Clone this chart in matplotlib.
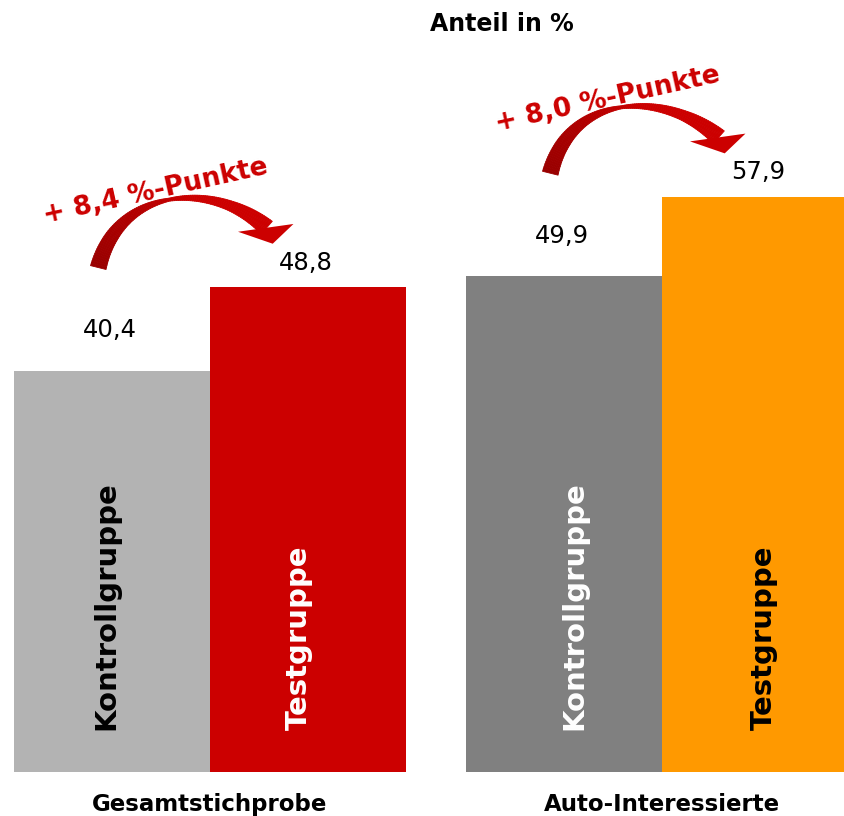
import numpy as np
import matplotlib
matplotlib.use("Agg")
import matplotlib.pyplot as plt
from matplotlib.collections import PolyCollection
from matplotlib.colors import to_rgb
from matplotlib.patches import Polygon
from matplotlib.transforms import IdentityTransform

groups = ["Gesamtstichprobe", "Auto-Interessierte"]
members = ["Kontrollgruppe", "Testgruppe"]
values = [[40.4, 48.8], [49.9, 57.9]]
value_labels = [["40,4", "48,8"], ["49,9", "57,9"]]
diff_labels = ["+ 8,4 %-Punkte", "+ 8,0 %-Punkte"]
title = "Anteil in %"

bar_colors = [["#b3b3b3", "#cc0000"], ["#808080", "#ff9900"]]
inner_colors = [["black", "white"], ["white", "black"]]
inner_shift = [[-0.035, -0.05], [0.05, 0.015]]   # small x nudges of rotated labels
red = "#cc0000"

W, H, DPI = 845, 816, 100
PX_Y = 9.93          # pixels per percent
BASE = 44            # baseline, pixels from bottom
BAR_PX = 196.0
GAP = 452 / BAR_PX   # distance between group centres in bar widths

fig = plt.figure(figsize=(W / DPI, H / DPI), dpi=DPI)
ax = fig.add_axes([0, 0, 1, 1])
ax.axis("off")
x_left = -1 - 14 / BAR_PX
ax.set_xlim(x_left, x_left + W / BAR_PX)
ax.set_ylim(-BASE / PX_Y, (H - BASE) / PX_Y)


def bar_x(g, j):
    return g * GAP + (j - 0.5)


for g in range(len(groups)):
    for j in range(len(members)):
        x = bar_x(g, j)
        v = values[g][j]
        ax.bar(x, v, width=1.0, color=bar_colors[g][j], linewidth=0)
        off = 4.1 if j == 0 else 2.5
        ax.text(x - 0.01, v + off, value_labels[g][j], ha="center", va="center",
                fontsize=17.5, color="black")
        ax.text(x + 0.045 + inner_shift[g][j], 4.2, members[j], rotation=90,
                rotation_mode="anchor", ha="left", va="baseline", fontsize=21,
                fontweight="bold", color=inner_colors[g][j])
    ax.text(g * GAP, -3.3, groups[g], ha="center", va="center",
            fontsize=16.5, fontweight="bold", color="black")

fig.text(502 / W, 1 - 24 / H, title, ha="center", va="center",
         fontsize=17, fontweight="bold", color="black")


def curved_arrow(tail, tip, col0, col1):
    # tapered, shaded arrow along a cubic bezier, built in pixel space
    T = ax.transData.transform(tail)
    P = ax.transData.transform(tip)
    B = P + np.array([-6, 16])          # centre of the head's base
    C1 = T + np.array([20, 80])
    C2 = B + np.array([-55, 48])

    def bez(t):
        t = np.asarray(t, dtype=float)[..., None]
        return ((1 - t) ** 3 * T + 3 * t * (1 - t) ** 2 * C1
                + 3 * t ** 2 * (1 - t) * C2 + t ** 3 * B)

    def tang(t):
        t = np.asarray(t, dtype=float)[..., None]
        return (3 * (1 - t) ** 2 * (C1 - T) + 6 * t * (1 - t) * (C2 - C1)
                + 3 * t ** 2 * (B - C2))

    ts = np.linspace(0, 1, 100)
    pts = bez(ts)
    tg = tang(ts)
    tg = tg / np.linalg.norm(tg, axis=1)[:, None]
    nrm = np.column_stack([-tg[:, 1], tg[:, 0]])
    w = np.interp(ts, [0, 0.15, 0.5, 0.8, 1], [16, 13, 3, 10, 17])
    left = pts + nrm * (w[:, None] / 2)
    right = pts - nrm * (w[:, None] / 2)

    c0, c1 = np.array(to_rgb(col0)), np.array(to_rgb(col1))
    quads, cols = [], []
    for i in range(len(ts) - 1):
        quads.append([left[i], left[i + 1], right[i + 1], right[i]])
        cols.append(c0 + (c1 - c0) * min(1, ts[i] * 1.6))
    ax.add_collection(PolyCollection(quads, facecolors=cols, edgecolors=cols,
                                     linewidths=0.6, transform=IdentityTransform()))
    u = np.array([57, 8]) / np.hypot(57, 8)
    head = np.array([B - u * 29, P, B + u * 27])
    ax.add_patch(Polygon(head, closed=True, facecolor=col1, edgecolor="none",
                         transform=IdentityTransform()))
    peak = bez(0.5)
    return ax.transData.inverted().transform(peak)


for g in range(len(groups)):
    v0, v1 = values[g]
    tail = (bar_x(g, 0) - 0.07, v0 + 10.4)
    tip = (bar_x(g, 1) - 0.18, v1 + 4.4)
    peak = curved_arrow(tail, tip, "#990000", "#cc0000")
    ax.annotate(diff_labels[g], xy=peak, xytext=(-10, 6), textcoords="offset points",
                ha="center", va="center", rotation=12.5, rotation_mode="anchor",
                fontsize=19, fontweight="bold", color=red)

fig.savefig("out.png", dpi=DPI)
